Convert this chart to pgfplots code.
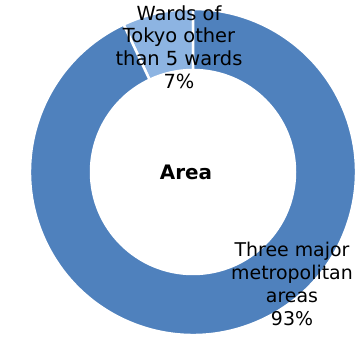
\documentclass[border=0pt]{standalone}
\usepackage{pgfplots}
\pgfplotsset{compat=1.18}
\usepackage{fontspec}
\setmainfont{DejaVu Sans}
\definecolor{darkblue}{HTML}{4F81BD}
\definecolor{lightblue}{HTML}{8DB4E2}
\begin{document}
\begin{tikzpicture}
\useasboundingbox (0,0) rectangle (357bp,337bp);
% values (percent)
\def\valA{93} % Three major metropolitan areas
\def\valB{7}  % Wards of Tokyo other than 5 wards
\pgfmathsetmacro{\angB}{90+\valB*3.6}
\pgfmathsetmacro{\angEnd}{450}
\begin{axis}[at={(0,0)}, anchor=south west, scale only axis,
  width=357bp, height=337bp, xmin=0, xmax=357, ymin=0, ymax=337,
  hide axis, clip=false]
\fill[lightblue, draw=white, line width=2.5bp]
  ([shift={(90:163bp)}]axis cs:193,165) arc[start angle=90, end angle=\angB, radius=163bp]
  -- ([shift={(\angB:102bp)}]axis cs:193,165) arc[start angle=\angB, end angle=90, radius=102bp] -- cycle;
\fill[darkblue, draw=white, line width=2.5bp]
  ([shift={(\angB:163bp)}]axis cs:193,165) arc[start angle=\angB, end angle=\angEnd, radius=163bp]
  -- ([shift={(\angEnd:102bp)}]axis cs:193,165) arc[start angle=\angEnd, end angle=\angB, radius=102bp] -- cycle;
\node[align=center, font=\fontsize{19.5}{22.8}\selectfont, inner sep=0pt] at (axis cs:179,290) {Wards of\\Tokyo other\\than 5 wards\\7\%};
\node[align=center, font=\fontsize{19}{23.2}\selectfont, inner sep=0pt] at (axis cs:292,53) {Three major\\metropolitan\\areas\\93\%};
\node[font=\fontsize{20}{24}\selectfont\bfseries, inner sep=0pt] at (axis cs:186,165) {Area};
\end{axis}
\end{tikzpicture}
\end{document}
